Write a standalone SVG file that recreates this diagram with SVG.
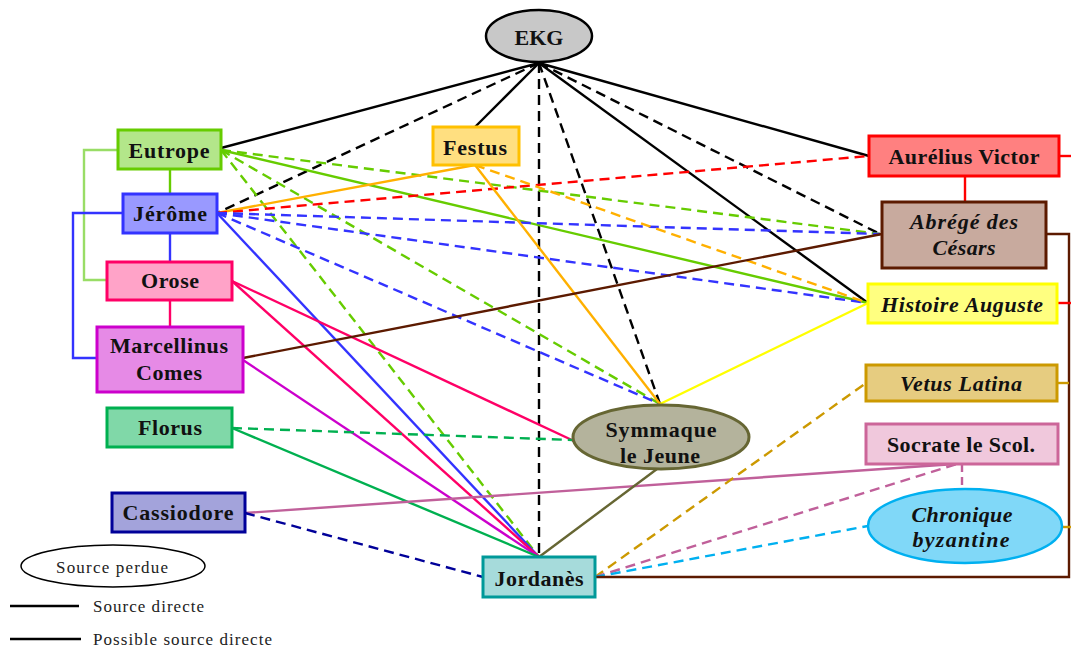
<svg xmlns="http://www.w3.org/2000/svg" width="1071" height="651" viewBox="0 0 1071 651">
<style>
.c{fill:none;stroke-width:2.4}
.d{stroke-dasharray:10 6}
.box{stroke-width:3}
.t{font-family:"Liberation Serif",serif;font-weight:bold;font-size:22px;fill:#111;text-anchor:middle}
.i{font-style:italic}
.lg{font-family:"Liberation Serif",serif;font-size:17px;fill:#222}
</style>
<rect width="1071" height="651" fill="#fff"/>
<g id="connectors">
<line class="c" stroke="#000" x1="539" y1="63" x2="221" y2="148"/>
<line class="c d" stroke="#000" x1="539" y1="63" x2="217" y2="213"/>
<line class="c" stroke="#000" x1="539" y1="63" x2="475" y2="127"/>
<line class="c d" stroke="#000" x1="539" y1="63" x2="539" y2="557"/>
<line class="c d" stroke="#000" x1="539" y1="63" x2="660" y2="404"/>
<line class="c" stroke="#000" x1="539" y1="63" x2="868" y2="303"/>
<line class="c d" stroke="#000" x1="539" y1="63" x2="880" y2="234"/>
<line class="c" stroke="#000" x1="539" y1="63" x2="869" y2="156"/>
<line class="c d" stroke="#66cc00" x1="221" y1="150" x2="880" y2="234"/>
<line class="c" stroke="#66cc00" x1="221" y1="150" x2="868" y2="303"/>
<line class="c d" stroke="#66cc00" x1="221" y1="150" x2="660" y2="404"/>
<line class="c d" stroke="#66cc00" x1="221" y1="150" x2="539" y2="557"/>
<line class="c" stroke="#ffb000" x1="217" y1="213" x2="475" y2="165"/>
<line class="c d" stroke="#ff0000" x1="217" y1="213" x2="869" y2="156"/>
<line class="c d" stroke="#3333ff" x1="217" y1="213" x2="880" y2="234"/>
<line class="c d" stroke="#3333ff" x1="217" y1="213" x2="868" y2="303"/>
<line class="c d" stroke="#3333ff" x1="217" y1="213" x2="660" y2="404"/>
<line class="c" stroke="#3333ff" x1="217" y1="213" x2="539" y2="557"/>
<line class="c" stroke="#ffb000" x1="475" y1="165" x2="660" y2="404"/>
<line class="c d" stroke="#ffb000" x1="475" y1="165" x2="868" y2="303"/>
<line class="c" stroke="#ff0066" x1="232" y1="281" x2="574" y2="441"/>
<line class="c" stroke="#ff0066" x1="232" y1="281" x2="539" y2="557"/>
<line class="c" stroke="#5c1a00" x1="243" y1="358" x2="882" y2="234"/>
<line class="c" stroke="#cc00cc" x1="243" y1="360" x2="539" y2="557"/>
<line class="c d" stroke="#00b050" x1="232" y1="428" x2="573" y2="440"/>
<line class="c" stroke="#00b050" x1="232" y1="428" x2="539" y2="557"/>
<line class="c" stroke="#c0609a" x1="245" y1="513" x2="955" y2="464"/>
<line class="c d" stroke="#000099" x1="245" y1="513" x2="483" y2="577"/>
<line class="c" stroke="#ffff00" x1="660" y1="404" x2="868" y2="303"/>
<line class="c" stroke="#666633" x1="657" y1="469" x2="539" y2="557"/>
<line class="c d" stroke="#cc9900" x1="595" y1="577" x2="866" y2="383"/>
<line class="c d" stroke="#c0609a" x1="595" y1="577" x2="957" y2="464"/>
<line class="c d" stroke="#00b0f0" x1="595" y1="577" x2="868" y2="526"/>
<polyline class="c" stroke="#5c1a00" points="1046,234 1069,234 1069,577 595,577"/>
<line class="c" stroke="#ff0000" x1="1059" y1="156" x2="1071" y2="156"/>
<line class="c" stroke="#ff0000" x1="1057" y1="303" x2="1071" y2="303"/>
<line class="c" stroke="#cc9900" x1="1057" y1="383" x2="1069" y2="383"/>
<line class="c" stroke="#cc9900" x1="1063" y1="527" x2="1071" y2="527"/>
<line class="c" stroke="#ff0000" x1="965" y1="176" x2="965" y2="202"/>
<line class="c" stroke="#c0609a" x1="962" y1="464" x2="962" y2="489" stroke-dasharray="8 5"/>
<line class="c" stroke="#66cc00" x1="170" y1="169" x2="170" y2="194"/>
<line class="c" stroke="#3333ff" x1="170" y1="233" x2="170" y2="262"/>
<line class="c" stroke="#ff0066" x1="170" y1="300" x2="170" y2="327"/>
<polyline class="c" stroke="#99dd66" points="118,150 84,150 84,280 107,280"/>
<polyline class="c" stroke="#3333ff" points="123,213 73,213 73,358 97,358"/>
</g>
<g id="ekg"><ellipse cx="539" cy="36" rx="53" ry="26" fill="#c8c8c8" stroke="#000" stroke-width="2.5"/><text class="t" x="539" y="45" font-size="20">EKG</text></g>
<g id="eutrope"><rect class="box" x="118" y="130" width="103" height="39" fill="#b3e68a" stroke="#66cc00"/><text class="t" x="169" y="158" textLength="81">Eutrope</text></g>
<g id="jerome"><rect class="box" x="123" y="194" width="94" height="39" fill="#9999ff" stroke="#3333ff"/><text class="t" x="170" y="221" textLength="74">Jérôme</text></g>
<g id="orose"><rect class="box" x="107" y="262" width="125" height="38" fill="#ffa3c8" stroke="#ff0066"/><text class="t" x="170" y="288" textLength="58">Orose</text></g>
<g id="marcellinus"><rect class="box" x="97" y="327" width="146" height="65" fill="#e68ae6" stroke="#cc00cc"/><text class="t" x="169" y="353" textLength="118">Marcellinus</text><text class="t" x="169" y="380" textLength="66">Comes</text></g>
<g id="florus"><rect class="box" x="107" y="408" width="125" height="39" fill="#80d8a8" stroke="#00b050"/><text class="t" x="170" y="435" textLength="64">Florus</text></g>
<g id="cassiodore"><rect class="box" x="112" y="493" width="133" height="39" fill="#a3a3db" stroke="#000099"/><text class="t" x="178" y="520" textLength="111">Cassiodore</text></g>
<g id="festus"><rect class="box" x="433" y="127" width="86" height="38" fill="#ffdf80" stroke="#ffc000"/><text class="t" x="475" y="155" textLength="64">Festus</text></g>
<g id="aurelius"><rect class="box" x="869" y="136" width="190" height="40" fill="#ff8080" stroke="#ff0000"/><text class="t" x="964" y="164" textLength="151">Aurélius Victor</text></g>
<g id="abrege"><rect class="box" x="882" y="202" width="164" height="66" fill="#c8aa9e" stroke="#5c1a00"/><text class="t i" x="964" y="229" textLength="108">Abrégé des</text><text class="t i" x="964" y="255" textLength="63">Césars</text></g>
<g id="histoire"><rect class="box" x="868" y="284" width="189" height="39" fill="#ffff80" stroke="#ffff00"/><text class="t i" x="962" y="312" textLength="162">Histoire Auguste</text></g>
<g id="vetus"><rect class="box" x="866" y="365" width="191" height="36" fill="#e6cc80" stroke="#cc9900"/><text class="t i" x="961" y="391" textLength="122">Vetus Latina</text></g>
<g id="socrate"><rect class="box" x="866" y="424" width="192" height="40" fill="#f0c8dc" stroke="#cc6699"/><text class="t" x="961" y="452" textLength="148">Socrate le Scol.</text></g>
<g id="chronique"><ellipse cx="965" cy="526" rx="97" ry="37" fill="#80d8f8" stroke="#00b0f0" stroke-width="2.5"/><text class="t i" x="962" y="522" textLength="101">Chronique</text><text class="t i" x="961" y="547" textLength="97">byzantine</text></g>
<g id="symmaque"><ellipse cx="661" cy="437" rx="88" ry="32" fill="#b4b39c" stroke="#666633" stroke-width="3"/><text class="t" x="661" y="437" textLength="111">Symmaque</text><text class="t" x="660" y="463" textLength="80">le Jeune</text></g>
<g id="jordanes"><rect class="box" x="483" y="557" width="112" height="40" fill="#a6dbdb" stroke="#009999"/><text class="t" x="539" y="586" textLength="89">Jordanès</text></g>
<g id="legend">
<ellipse cx="113" cy="566" rx="92" ry="21" fill="#fff" stroke="#000" stroke-width="1.5"/>
<text class="lg" x="56" y="573" textLength="112">Source perdue</text>
<line x1="10" y1="606" x2="79" y2="606" stroke="#000" stroke-width="2.5"/>
<text class="lg" x="93" y="612" textLength="111">Source directe</text>
<line x1="10" y1="639" x2="81" y2="639" stroke="#000" stroke-width="2.5"/>
<text class="lg" x="93" y="645" textLength="179">Possible source directe</text>
</g>
</svg>
